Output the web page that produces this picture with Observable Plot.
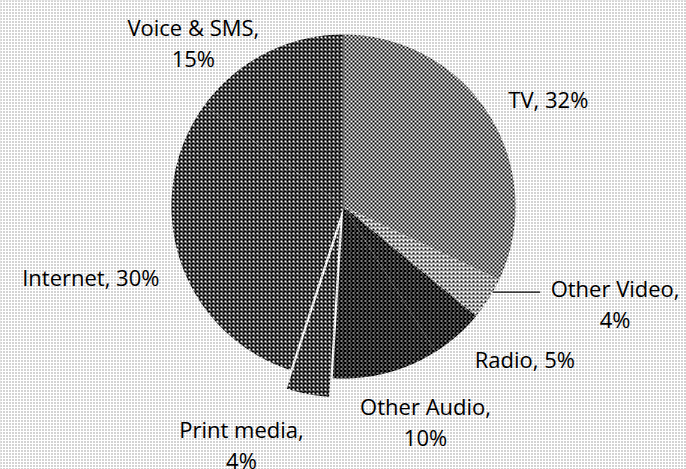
<!DOCTYPE html>
<html><head><meta charset="utf-8">
<script src="https://cdn.jsdelivr.net/npm/d3@7"></script>
<script src="https://cdn.jsdelivr.net/npm/@observablehq/plot@0.6"></script>
<style>
html,body{margin:0;padding:0;background:#e8e8e8;overflow:hidden;}
#chart svg{display:block;}
</style></head><body>
<svg width="0" height="0" style="position:absolute">
<defs>
<pattern id="p-bg" width="3" height="3" patternUnits="userSpaceOnUse">
  <rect width="3" height="3" fill="#fff"/><rect width="1" height="1" fill="#505050"/>
</pattern>
<pattern id="p-tv" width="4" height="4" patternUnits="userSpaceOnUse">
  <rect width="4" height="4" fill="#fff"/><rect width="2" height="2" fill="#000"/><rect x="2" y="2" width="2" height="2" fill="#000"/>
</pattern>
<pattern id="p-ovideo" width="4" height="4" patternUnits="userSpaceOnUse">
  <rect width="4" height="4" fill="#fff"/><rect width="2" height="2" fill="#000"/><rect x="2" y="2" width="2" height="1" fill="#000"/>
</pattern>
<pattern id="p-radio" width="4" height="4" patternUnits="userSpaceOnUse">
  <rect width="4" height="4" fill="#000"/><rect width="2" height="1" fill="#fff"/><rect x="2" y="2" width="1" height="1" fill="#fff"/>
</pattern>
<pattern id="p-oaudio" width="4" height="4" patternUnits="userSpaceOnUse">
  <rect width="4" height="4" fill="#000"/><rect width="2" height="1" fill="#fff"/><rect x="2" y="2" width="1" height="1" fill="#fff"/>
</pattern>
<pattern id="p-print" width="4" height="4" patternUnits="userSpaceOnUse">
  <rect width="4" height="4" fill="#000"/><rect width="2" height="2" fill="#fff"/><rect x="2" y="2" width="1" height="1" fill="#fff"/>
</pattern>
<pattern id="p-internet" width="4" height="4" patternUnits="userSpaceOnUse">
  <rect width="4" height="4" fill="#000"/><rect width="2" height="2" fill="#fff"/><rect x="2" y="2" width="1" height="1" fill="#fff"/>
</pattern>
<pattern id="p-voice" width="4" height="4" patternUnits="userSpaceOnUse">
  <rect width="4" height="4" fill="#000"/><rect width="2" height="2" fill="#fff"/><rect x="2" y="2" width="1" height="1" fill="#fff"/>
</pattern>
</defs></svg>
<div id="chart"></div>
<script>
// ---- data ----
const categories = ["TV", "Other Video", "Radio", "Other Audio", "Print media", "Internet", "Voice & SMS"];
const shares = [32, 4, 5, 10, 4, 30, 15];
const labels = ["TV, 32%", "Other Video,\n4%", "Radio, 5%", "Other Audio,\n10%", "Print media,\n4%", "Internet, 30%", "Voice & SMS,\n15%"];

// ---- styles / layout ----
const patterns = ["url(#p-tv)", "url(#p-ovideo)", "url(#p-radio)", "url(#p-oaudio)", "url(#p-print)", "url(#p-internet)", "url(#p-voice)"];
const exploded = [0, 0, 0, 0, 0.11, 0, 0];           // radial offset (in radii)
const labelAngleDeg = [62.0, 109.4, 129.8, 159.0, 203.3, 254.7, 317.7];
const labelRadius = [1.349, 1.674, 1.372, 1.331, 1.50, 1.523, 1.297];
const leader = [false, true, false, false, false, false, false];

const W = 686, H = 469, CX = 343, CY = 206, R = 172;

const arcs = d3.pie().sort(null).value(d => d)(shares);
const polar = (a, r) => [r * Math.sin(a), r * Math.cos(a)];

const wedgePts = [];
arcs.forEach((a, i) => {
  const mid = (a.startAngle + a.endAngle) / 2;
  const [ox, oy] = polar(mid, exploded[i]);
  const n = Math.max(2, Math.ceil((a.endAngle - a.startAngle) / (Math.PI / 360)));
  wedgePts.push({name: categories[i], pat: patterns[i], x: ox, y: oy});
  for (let k = 0; k <= n; k++) {
    const t = a.startAngle + (a.endAngle - a.startAngle) * k / n;
    const [px, py] = polar(t, 1);
    wedgePts.push({name: categories[i], pat: patterns[i], x: px + ox, y: py + oy});
  }
});

const labelData = categories.map((c, i) => {
  const [x, y] = polar(labelAngleDeg[i] * Math.PI / 180, labelRadius[i]);
  return {name: c, text: labels[i], x, y};
});

const leaders = labelData.filter((d, i) => leader[i]).map(d => {
  const ly = d.y + 10 / R;
  return {x1: Math.sqrt(1 - ly * ly), y1: ly, x2: d.x - 75 / R, y2: ly};
});

const chart = Plot.plot({
  width: W, height: H,
  margin: 0,
  x: {domain: [-CX / R, (W - CX) / R], axis: null},
  y: {domain: [-(H - CY) / R, CY / R], axis: null},
  color: {type: "identity"},
  marks: [
    Plot.frame({fill: "url(#p-bg)", stroke: null}),
    Plot.line(wedgePts, {x: "x", y: "y", z: "name", fill: "pat", stroke: "none", curve: "linear-closed"}),
    Plot.link(leaders, {x1: "x1", y1: "y1", x2: "x2", y2: "y2", stroke: "#000", strokeWidth: 1.3}),
    Plot.text(labelData, {x: "x", y: "y", text: "text", fontSize: 22, fontFamily: "Open Sans", lineHeight: 1.42, fill: "#000"})
  ]
});
document.getElementById("chart").append(chart);
</script>
</body></html>
